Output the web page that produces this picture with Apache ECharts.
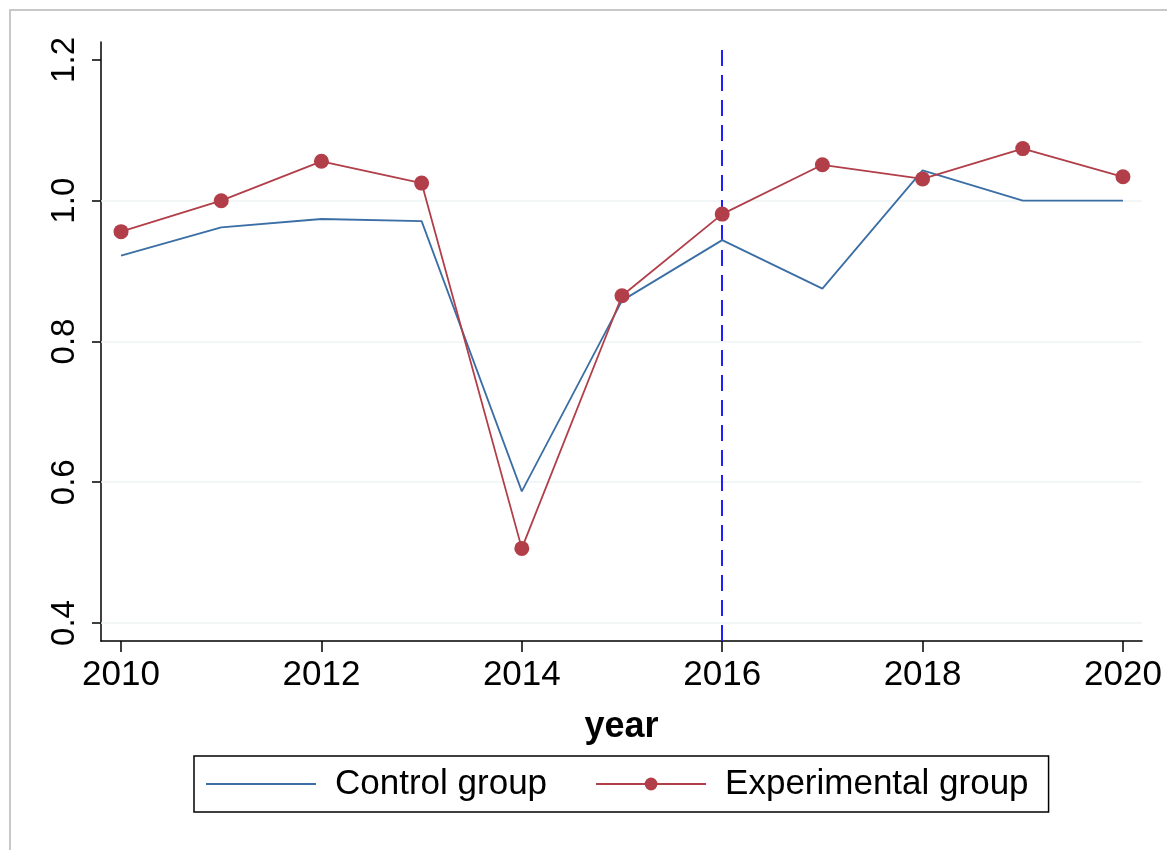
<!DOCTYPE html>
<html>
<head>
<meta charset="utf-8">
<script src="https://cdn.jsdelivr.net/npm/echarts@6/dist/echarts.min.js"></script>
<style>
html,body{margin:0;padding:0;background:#fff;}
#chart{width:1167px;height:850px;}
</style>
</head>
<body>
<div id="chart"></div>
<script>
const years = [2010, 2011, 2012, 2013, 2014, 2015, 2016, 2017, 2018, 2019, 2020];
const control = [0.922, 0.962, 0.974, 0.971, 0.587, 0.858, 0.944, 0.875, 1.043, 1.000, 1.000];
const experimental = [0.956, 1.000, 1.056, 1.025, 0.506, 0.865, 0.981, 1.051, 1.031, 1.074, 1.034];
const xTicks = [2010, 2012, 2014, 2016, 2018, 2020];
const yTicks = [0.4, 0.6, 0.8, 1.0, 1.2];
const gridValues = [0.4, 0.6, 0.8, 1.0];
const treatmentYear = 2016;
const seriesNames = ['Control group', 'Experimental group'];

const font = '"Liberation Sans", Arial, sans-serif';
const chart = echarts.init(document.getElementById('chart'), null, {renderer: 'canvas'});

const option = {
  backgroundColor: '#ffffff',
  animation: false,
  graphic: [{
    type: 'rect',
    shape: {x: 10, y: 10, width: 1300, height: 1000},
    style: {fill: 'none', stroke: '#c8c8c8', lineWidth: 2},
    silent: true,
    z: -10
  }],
  grid: {left: 101, right: 25, top: 42, bottom: 209, containLabel: false},
  xAxis: {
    type: 'value',
    min: 2009.8,
    max: 2020.19,
    name: 'year',
    nameLocation: 'middle',
    nameGap: 68,
    nameTextStyle: {fontFamily: font, fontSize: 36, fontWeight: 'bold', color: '#000'},
    axisLine: {show: true, onZero: false, lineStyle: {color: '#000', width: 1.5}},
    axisTick: {show: true, length: 11, lineStyle: {color: '#000', width: 1.5}, customValues: xTicks},
    axisLabel: {fontFamily: font, fontSize: 35, color: '#000', margin: 17, customValues: xTicks,
      formatter: v => String(v)},
    splitLine: {show: false}
  },
  yAxis: {
    type: 'value',
    min: 0.3744,
    max: 1.2255,
    axisLine: {show: true, onZero: false, lineStyle: {color: '#000', width: 1.5}},
    axisTick: {show: true, length: 9, lineStyle: {color: '#000', width: 1.5}, customValues: yTicks},
    axisLabel: {fontFamily: font, fontSize: 33, color: '#000', margin: 20, rotate: 90, customValues: yTicks,
      formatter: v => v.toFixed(1)},
    splitLine: {show: false}
  },
  legend: {
    data: [
      {name: seriesNames[0], itemStyle: {opacity: 0}},
      {name: seriesNames[1]}
    ],
    left: 194,
    top: 756,
    orient: 'horizontal',
    borderColor: '#000',
    borderWidth: 1.5,
    borderRadius: 0,
    padding: [8, 20, 8, 11],
    itemWidth: 110,
    itemHeight: 16,
    itemGap: 48,
    selectedMode: false,
    textStyle: {fontFamily: font, fontSize: 35, color: '#000', padding: [0, 0, 0, 14], lineHeight: 40}
  },
  series: [
    {
      name: seriesNames[0],
      type: 'line',
      data: years.map((y, i) => [y, control[i]]),
      symbol: 'none',
      lineStyle: {color: '#3a6ea5', width: 1.8},
      itemStyle: {color: '#3a6ea5'},
      z: 3,
      silent: true,
      markLine: {
        silent: true,
        symbol: 'none',
        label: {show: false},
        lineStyle: {color: '#eef3f3', width: 1.5, type: 'solid'},
        data: gridValues.map(v => ({yAxis: v})),
        z: 1
      }
    },
    {
      name: seriesNames[1],
      type: 'line',
      data: years.map((y, i) => [y, experimental[i]]),
      symbol: 'circle',
      symbolSize: 15,
      showSymbol: true,
      lineStyle: {color: '#b13e48', width: 1.8},
      itemStyle: {color: '#b13e48'},
      z: 4,
      silent: true,
      markLine: {
        silent: true,
        symbol: 'none',
        label: {show: false},
        lineStyle: {color: '#1f1fff', width: 2, type: [16, 9]},
        data: [{xAxis: treatmentYear}],
        z: 2
      }
    }
  ]
};
chart.setOption(option);
</script>
</body>
</html>
